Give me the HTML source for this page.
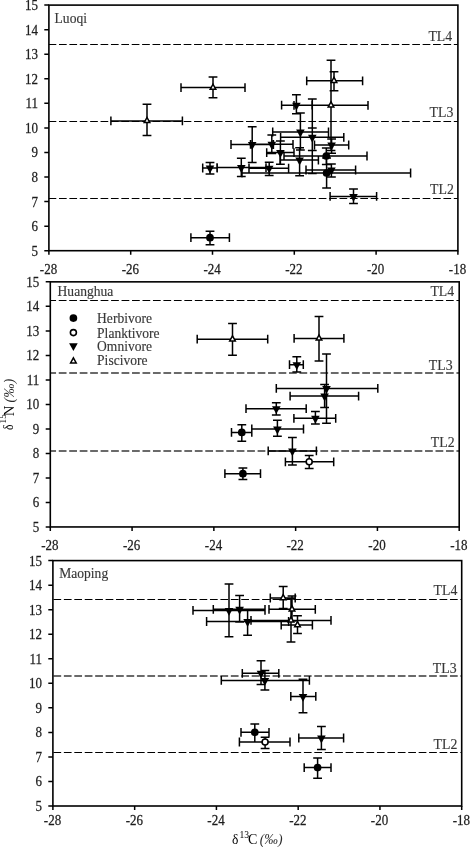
<!DOCTYPE html>
<html><head><meta charset="utf-8"><title>Stable isotope biplots</title>
<style>
html,body{margin:0;padding:0;background:#fff;}
svg{display:block;filter:grayscale(1);font-family:'Liberation Serif', serif;}
</style></head>
<body>
<svg width="470" height="847" viewBox="0 0 470 847">
<rect width="470" height="847" fill="#fff"/>
<g>
<line x1="48.9" y1="44.5" x2="457.9" y2="44.5" stroke="#000" stroke-width="1.15" stroke-dasharray="7.69 2.70" stroke-dashoffset="0.3"/>
<text transform="translate(452.2 40.8) scale(0.92 1)" font-size="15.0" text-anchor="end" fill="#383838" stroke="#383838" stroke-width="0.15">TL4</text>
<line x1="48.9" y1="121.5" x2="457.9" y2="121.5" stroke="#000" stroke-width="1.15" stroke-dasharray="7.69 2.70" stroke-dashoffset="0.3"/>
<text transform="translate(453.3 116.8) scale(0.92 1)" font-size="15.0" text-anchor="end" fill="#383838" stroke="#383838" stroke-width="0.15">TL3</text>
<line x1="48.9" y1="198.5" x2="457.9" y2="198.5" stroke="#000" stroke-width="1.15" stroke-dasharray="7.69 2.70" stroke-dashoffset="0.3"/>
<text transform="translate(453.8 194.0) scale(0.92 1)" font-size="15.0" text-anchor="end" fill="#383838" stroke="#383838" stroke-width="0.15">TL2</text>
<path d="M190.9 237.7H229.4M190.9 233.3V242.1M229.4 233.3V242.1M210.0 231.3V244.7M205.6 231.3H214.4M205.6 244.7H214.4M202.7 168.0H217.2M202.7 163.6V172.4M217.2 163.6V172.4M210.0 162.5V174.0M205.6 162.5H214.4M205.6 174.0H214.4M217.0 167.6H266.0M217.0 163.2V172.0M266.0 163.2V172.0M241.3 158.3V176.4M236.9 158.3H245.7M236.9 176.4H245.7M231.0 144.5H273.4M231.0 140.1V148.9M273.4 140.1V148.9M252.2 126.8V162.4M247.8 126.8H256.6M247.8 162.4H256.6M249.0 168.2H288.6M249.0 163.8V172.6M288.6 163.8V172.6M269.2 162.3V175.5M264.8 162.3H273.6M264.8 175.5H273.6M250.5 144.3H293.0M250.5 139.9V148.7M293.0 139.9V148.7M271.8 135.0V153.6M267.4 135.0H276.2M267.4 153.6H276.2M266.7 152.6H294.0M266.7 148.2V157.0M294.0 148.2V157.0M280.4 141.0V164.3M276.0 141.0H284.8M276.0 164.3H284.8M272.7 132.0H328.5M272.7 127.6V136.4M328.5 127.6V136.4M300.4 113.1V150.0M296.0 113.1H304.8M296.0 150.0H304.8M280.6 137.3H343.8M280.6 132.9V141.7M343.8 132.9V141.7M312.3 98.9V173.5M307.9 98.9H316.7M307.9 173.5H316.7M314.5 145.0H348.7M314.5 140.6V149.4M348.7 140.6V149.4M331.6 139.0V153.3M327.2 139.0H336.0M327.2 153.3H336.0M307.9 127.9H316.7M307.9 150.5H316.7M280.0 160.0H318.4M280.0 155.6V164.4M318.4 155.6V164.4M299.6 147.7V175.7M295.2 147.7H304.0M295.2 175.7H304.0M284.0 156.0H367.0M284.0 151.6V160.4M367.0 151.6V160.4M326.3 148.0V164.5M321.9 148.0H330.7M321.9 164.5H330.7M242.0 173.0H410.6M242.0 168.6V177.4M410.6 168.6V177.4M326.6 158.0V187.9M322.2 158.0H331.0M322.2 187.9H331.0M306.0 170.0H355.6M306.0 165.6V174.4M355.6 165.6V174.4M331.4 164.0V177.0M327.0 164.0H335.8M327.0 177.0H335.8M330.1 196.4H376.6M330.1 192.0V200.8M376.6 192.0V200.8M353.5 189.1V203.6M349.1 189.1H357.9M349.1 203.6H357.9M281.6 105.2H312.0M281.6 100.8V109.6M312.0 100.8V109.6M296.4 94.8V113.8M292.0 94.8H300.8M292.0 113.8H300.8M181.0 87.6H245.0M181.0 83.2V92.0M245.0 83.2V92.0M213.0 77.1V97.7M208.6 77.1H217.4M208.6 97.7H217.4M110.9 120.9H182.4M110.9 116.5V125.3M182.4 116.5V125.3M147.0 104.3V135.6M142.6 104.3H151.4M142.6 135.6H151.4M306.7 80.8H362.6M306.7 76.4V85.2M362.6 76.4V85.2M334.0 71.7V90.8M329.6 71.7H338.4M329.6 90.8H338.4M294.0 105.3H368.0M294.0 100.9V109.7M368.0 100.9V109.7M331.0 60.2V150.6M326.6 60.2H335.4M326.6 150.6H335.4" stroke="#000" stroke-width="1.5" fill="none"/>
<circle cx="210.0" cy="237.7" r="3.85" fill="#000"/>
<path d="M205.7 165.5H214.3L210.0 173.4Z" fill="#000"/>
<path d="M237.0 165.1H245.6L241.3 173.0Z" fill="#000"/>
<path d="M247.9 142.0H256.5L252.2 149.9Z" fill="#000"/>
<path d="M264.9 165.7H273.5L269.2 173.6Z" fill="#000"/>
<path d="M267.5 141.8H276.1L271.8 149.7Z" fill="#000"/>
<path d="M276.1 150.1H284.7L280.4 158.0Z" fill="#000"/>
<path d="M296.1 129.5H304.7L300.4 137.4Z" fill="#000"/>
<path d="M308.0 134.8H316.6L312.3 142.7Z" fill="#000"/>
<path d="M327.3 142.5H335.9L331.6 150.4Z" fill="#000"/>
<path d="M295.3 157.5H303.9L299.6 165.4Z" fill="#000"/>
<circle cx="326.3" cy="156.0" r="3.85" fill="#000"/>
<circle cx="326.6" cy="173.0" r="3.85" fill="#000"/>
<path d="M327.1 167.5H335.7L331.4 175.4Z" fill="#000"/>
<path d="M349.2 193.9H357.8L353.5 201.8Z" fill="#000"/>
<path d="M292.1 102.7H300.7L296.4 110.6Z" fill="#000"/>
<path d="M210.2 89.3H215.8L213.0 84.2Z" fill="#fff" stroke="#000" stroke-width="1.5" stroke-linejoin="miter"/>
<path d="M144.2 122.6H149.8L147.0 117.5Z" fill="#fff" stroke="#000" stroke-width="1.5" stroke-linejoin="miter"/>
<path d="M331.2 82.5H336.8L334.0 77.4Z" fill="#fff" stroke="#000" stroke-width="1.5" stroke-linejoin="miter"/>
<path d="M328.2 107.0H333.8L331.0 101.9Z" fill="#fff" stroke="#000" stroke-width="1.5" stroke-linejoin="miter"/>
<rect x="48.9" y="5.1" width="409.0" height="245.6" fill="none" stroke="#000" stroke-width="1.6"/>
<text transform="translate(37.9 10.0) scale(0.89 1)" font-size="14.6" text-anchor="end" fill="#1c1c1c" stroke="#1c1c1c" stroke-width="0.25">15</text>
<text transform="translate(37.9 34.6) scale(0.89 1)" font-size="14.6" text-anchor="end" fill="#1c1c1c" stroke="#1c1c1c" stroke-width="0.25">14</text>
<text transform="translate(37.9 59.1) scale(0.89 1)" font-size="14.6" text-anchor="end" fill="#1c1c1c" stroke="#1c1c1c" stroke-width="0.25">13</text>
<text transform="translate(37.9 83.7) scale(0.89 1)" font-size="14.6" text-anchor="end" fill="#1c1c1c" stroke="#1c1c1c" stroke-width="0.25">12</text>
<text transform="translate(37.9 108.2) scale(0.89 1)" font-size="14.6" text-anchor="end" fill="#1c1c1c" stroke="#1c1c1c" stroke-width="0.25">11</text>
<text transform="translate(37.9 132.8) scale(0.89 1)" font-size="14.6" text-anchor="end" fill="#1c1c1c" stroke="#1c1c1c" stroke-width="0.25">10</text>
<text transform="translate(37.9 157.4) scale(0.89 1)" font-size="14.6" text-anchor="end" fill="#1c1c1c" stroke="#1c1c1c" stroke-width="0.25">9</text>
<text transform="translate(37.9 181.9) scale(0.89 1)" font-size="14.6" text-anchor="end" fill="#1c1c1c" stroke="#1c1c1c" stroke-width="0.25">8</text>
<text transform="translate(37.9 206.5) scale(0.89 1)" font-size="14.6" text-anchor="end" fill="#1c1c1c" stroke="#1c1c1c" stroke-width="0.25">7</text>
<text transform="translate(37.9 231.0) scale(0.89 1)" font-size="14.6" text-anchor="end" fill="#1c1c1c" stroke="#1c1c1c" stroke-width="0.25">6</text>
<text transform="translate(37.9 255.6) scale(0.89 1)" font-size="14.6" text-anchor="end" fill="#1c1c1c" stroke="#1c1c1c" stroke-width="0.25">5</text>
<text transform="translate(48.5 273.5) scale(0.89 1)" font-size="14.6" text-anchor="middle" fill="#1c1c1c" stroke="#1c1c1c" stroke-width="0.25">-28</text>
<text transform="translate(130.3 273.5) scale(0.89 1)" font-size="14.6" text-anchor="middle" fill="#1c1c1c" stroke="#1c1c1c" stroke-width="0.25">-26</text>
<text transform="translate(212.1 273.5) scale(0.89 1)" font-size="14.6" text-anchor="middle" fill="#1c1c1c" stroke="#1c1c1c" stroke-width="0.25">-24</text>
<text transform="translate(293.9 273.5) scale(0.89 1)" font-size="14.6" text-anchor="middle" fill="#1c1c1c" stroke="#1c1c1c" stroke-width="0.25">-22</text>
<text transform="translate(375.7 273.5) scale(0.89 1)" font-size="14.6" text-anchor="middle" fill="#1c1c1c" stroke="#1c1c1c" stroke-width="0.25">-20</text>
<text transform="translate(457.5 273.5) scale(0.89 1)" font-size="14.6" text-anchor="middle" fill="#1c1c1c" stroke="#1c1c1c" stroke-width="0.25">-18</text>
<path d="M44.3 5.10H48.9M44.3 29.66H48.9M44.3 54.22H48.9M44.3 78.78H48.9M44.3 103.34H48.9M44.3 127.90H48.9M44.3 152.46H48.9M44.3 177.02H48.9M44.3 201.58H48.9M44.3 226.14H48.9M44.3 250.70H48.9M48.90 250.7V254.7M130.70 250.7V254.7M212.50 250.7V254.7M294.30 250.7V254.7M376.10 250.7V254.7M457.90 250.7V254.7" stroke="#000" stroke-width="1.5" fill="none"/>
<text transform="translate(54.6 22.5) scale(0.915 1)" font-size="14.8" text-anchor="start" fill="#383838" stroke="#383838" stroke-width="0.15">Luoqi</text>
</g>
<g>
<line x1="50.3" y1="300.5" x2="459.2" y2="300.5" stroke="#000" stroke-width="1.15" stroke-dasharray="7.75 2.715" stroke-dashoffset="2.0"/>
<text transform="translate(454.2 296.3) scale(0.92 1)" font-size="15.0" text-anchor="end" fill="#383838" stroke="#383838" stroke-width="0.15">TL4</text>
<line x1="50.3" y1="373.0" x2="459.2" y2="373.0" stroke="#6a6a6a" stroke-width="2.0" stroke-dasharray="7.75 2.715" stroke-dashoffset="2.0"/>
<text transform="translate(452.6 369.7) scale(0.92 1)" font-size="15.0" text-anchor="end" fill="#383838" stroke="#383838" stroke-width="0.15">TL3</text>
<line x1="50.3" y1="451.0" x2="459.2" y2="451.0" stroke="#6a6a6a" stroke-width="2.0" stroke-dasharray="7.75 2.715" stroke-dashoffset="2.0"/>
<text transform="translate(454.6 447.4) scale(0.92 1)" font-size="15.0" text-anchor="end" fill="#383838" stroke="#383838" stroke-width="0.15">TL2</text>
<path d="M197.2 339.2H267.7M197.2 334.8V343.6M267.7 334.8V343.6M232.5 323.4V355.2M228.1 323.4H236.9M228.1 355.2H236.9M294.1 338.4H343.9M294.1 334.0V342.8M343.9 334.0V342.8M319.0 316.5V360.9M314.6 316.5H323.4M314.6 360.9H323.4M289.5 364.7H303.3M289.5 360.3V369.1M303.3 360.3V369.1M296.8 356.7V372.0M292.4 356.7H301.2M292.4 372.0H301.2M276.3 388.4H377.8M276.3 384.0V392.8M377.8 384.0V392.8M326.5 354.0V423.2M322.1 354.0H330.9M322.1 423.2H330.9M290.1 396.1H358.6M290.1 391.7V400.5M358.6 391.7V400.5M324.6 384.4V407.4M320.2 384.4H329.0M320.2 407.4H329.0M246.0 408.7H306.2M246.0 404.3V413.1M306.2 404.3V413.1M276.3 402.7V415.1M271.9 402.7H280.7M271.9 415.1H280.7M293.9 418.3H335.7M293.9 413.9V422.7M335.7 413.9V422.7M315.4 411.4V424.0M311.0 411.4H319.8M311.0 424.0H319.8M251.8 429.0H303.5M251.8 424.6V433.4M303.5 424.6V433.4M277.4 420.2V436.3M273.0 420.2H281.8M273.0 436.3H281.8M231.5 432.4H251.8M231.5 428.0V436.8M251.8 428.0V436.8M241.8 424.8V441.3M237.4 424.8H246.2M237.4 441.3H246.2M268.2 450.9H316.4M268.2 446.5V455.3M316.4 446.5V455.3M292.4 437.4V464.9M288.0 437.4H296.8M288.0 464.9H296.8M285.4 461.8H333.7M285.4 457.4V466.2M333.7 457.4V466.2M309.2 455.4V468.4M304.8 455.4H313.6M304.8 468.4H313.6M224.9 473.7H260.5M224.9 469.3V478.1M260.5 469.3V478.1M242.9 467.9V479.4M238.5 467.9H247.3M238.5 479.4H247.3" stroke="#000" stroke-width="1.5" fill="none"/>
<path d="M229.7 340.9H235.3L232.5 335.8Z" fill="#fff" stroke="#000" stroke-width="1.5" stroke-linejoin="miter"/>
<path d="M316.2 340.1H321.8L319.0 335.0Z" fill="#fff" stroke="#000" stroke-width="1.5" stroke-linejoin="miter"/>
<path d="M292.5 362.2H301.1L296.8 370.1Z" fill="#000"/>
<path d="M322.2 385.9H330.8L326.5 393.8Z" fill="#000"/>
<path d="M320.3 393.6H328.9L324.6 401.5Z" fill="#000"/>
<path d="M272.0 406.2H280.6L276.3 414.1Z" fill="#000"/>
<path d="M311.1 415.8H319.7L315.4 423.7Z" fill="#000"/>
<path d="M273.1 426.5H281.7L277.4 434.4Z" fill="#000"/>
<circle cx="241.8" cy="432.4" r="3.85" fill="#000"/>
<path d="M288.1 448.4H296.7L292.4 456.3Z" fill="#000"/>
<circle cx="309.2" cy="461.8" r="3.0" fill="#fff" stroke="#000" stroke-width="1.6"/>
<circle cx="242.9" cy="473.7" r="3.85" fill="#000"/>
<rect x="50.3" y="281.85" width="408.9" height="245.1" fill="none" stroke="#000" stroke-width="1.6"/>
<text transform="translate(39.3 286.8) scale(0.89 1)" font-size="14.6" text-anchor="end" fill="#1c1c1c" stroke="#1c1c1c" stroke-width="0.25">15</text>
<text transform="translate(39.3 311.3) scale(0.89 1)" font-size="14.6" text-anchor="end" fill="#1c1c1c" stroke="#1c1c1c" stroke-width="0.25">14</text>
<text transform="translate(39.3 335.8) scale(0.89 1)" font-size="14.6" text-anchor="end" fill="#1c1c1c" stroke="#1c1c1c" stroke-width="0.25">13</text>
<text transform="translate(39.3 360.3) scale(0.89 1)" font-size="14.6" text-anchor="end" fill="#1c1c1c" stroke="#1c1c1c" stroke-width="0.25">12</text>
<text transform="translate(39.3 384.8) scale(0.89 1)" font-size="14.6" text-anchor="end" fill="#1c1c1c" stroke="#1c1c1c" stroke-width="0.25">11</text>
<text transform="translate(39.3 409.3) scale(0.89 1)" font-size="14.6" text-anchor="end" fill="#1c1c1c" stroke="#1c1c1c" stroke-width="0.25">10</text>
<text transform="translate(39.3 433.8) scale(0.89 1)" font-size="14.6" text-anchor="end" fill="#1c1c1c" stroke="#1c1c1c" stroke-width="0.25">9</text>
<text transform="translate(39.3 458.4) scale(0.89 1)" font-size="14.6" text-anchor="end" fill="#1c1c1c" stroke="#1c1c1c" stroke-width="0.25">8</text>
<text transform="translate(39.3 482.9) scale(0.89 1)" font-size="14.6" text-anchor="end" fill="#1c1c1c" stroke="#1c1c1c" stroke-width="0.25">7</text>
<text transform="translate(39.3 507.4) scale(0.89 1)" font-size="14.6" text-anchor="end" fill="#1c1c1c" stroke="#1c1c1c" stroke-width="0.25">6</text>
<text transform="translate(39.3 531.9) scale(0.89 1)" font-size="14.6" text-anchor="end" fill="#1c1c1c" stroke="#1c1c1c" stroke-width="0.25">5</text>
<text transform="translate(49.9 549.8) scale(0.89 1)" font-size="14.6" text-anchor="middle" fill="#1c1c1c" stroke="#1c1c1c" stroke-width="0.25">-28</text>
<text transform="translate(131.7 549.8) scale(0.89 1)" font-size="14.6" text-anchor="middle" fill="#1c1c1c" stroke="#1c1c1c" stroke-width="0.25">-26</text>
<text transform="translate(213.5 549.8) scale(0.89 1)" font-size="14.6" text-anchor="middle" fill="#1c1c1c" stroke="#1c1c1c" stroke-width="0.25">-24</text>
<text transform="translate(295.2 549.8) scale(0.89 1)" font-size="14.6" text-anchor="middle" fill="#1c1c1c" stroke="#1c1c1c" stroke-width="0.25">-22</text>
<text transform="translate(377.0 549.8) scale(0.89 1)" font-size="14.6" text-anchor="middle" fill="#1c1c1c" stroke="#1c1c1c" stroke-width="0.25">-20</text>
<text transform="translate(458.8 549.8) scale(0.89 1)" font-size="14.6" text-anchor="middle" fill="#1c1c1c" stroke="#1c1c1c" stroke-width="0.25">-18</text>
<path d="M45.7 281.85H50.3M45.7 306.37H50.3M45.7 330.88H50.3M45.7 355.39H50.3M45.7 379.91H50.3M45.7 404.43H50.3M45.7 428.94H50.3M45.7 453.45H50.3M45.7 477.97H50.3M45.7 502.49H50.3M45.7 527.00H50.3M50.30 527.0V531.0M132.08 527.0V531.0M213.86 527.0V531.0M295.64 527.0V531.0M377.42 527.0V531.0M459.20 527.0V531.0" stroke="#000" stroke-width="1.5" fill="none"/>
<text transform="translate(57.6 295.6) scale(0.915 1)" font-size="14.8" text-anchor="start" fill="#383838" stroke="#383838" stroke-width="0.15">Huanghua</text>
</g>
<g>
<line x1="52.9" y1="599.5" x2="461.7" y2="599.5" stroke="#000" stroke-width="1.15" stroke-dasharray="7.73 2.705" stroke-dashoffset="9.9"/>
<text transform="translate(457.3 594.6) scale(0.92 1)" font-size="15.0" text-anchor="end" fill="#383838" stroke="#383838" stroke-width="0.15">TL4</text>
<line x1="52.9" y1="676.0" x2="461.7" y2="676.0" stroke="#6a6a6a" stroke-width="2.0" stroke-dasharray="7.73 2.705" stroke-dashoffset="9.9"/>
<text transform="translate(456.6 672.7) scale(0.92 1)" font-size="15.0" text-anchor="end" fill="#383838" stroke="#383838" stroke-width="0.15">TL3</text>
<line x1="52.9" y1="752.5" x2="461.7" y2="752.5" stroke="#000" stroke-width="1.15" stroke-dasharray="7.73 2.705" stroke-dashoffset="9.9"/>
<text transform="translate(457.3 749.0) scale(0.92 1)" font-size="15.0" text-anchor="end" fill="#383838" stroke="#383838" stroke-width="0.15">TL2</text>
<path d="M193.0 610.4H265.0M193.0 606.0V614.8M265.0 606.0V614.8M229.0 584.0V636.7M224.6 584.0H233.4M224.6 636.7H233.4M213.3 609.3H265.0M213.3 604.9V613.7M265.0 604.9V613.7M239.6 595.5V622.0M235.2 595.5H244.0M235.2 622.0H244.0M206.6 621.5H288.6M206.6 617.1V625.9M288.6 617.1V625.9M247.6 610.4V635.3M243.2 610.4H252.0M243.2 635.3H252.0M270.3 598.0H295.2M270.3 593.6V602.4M295.2 593.6V602.4M283.2 586.5V608.5M278.8 586.5H287.6M278.8 608.5H287.6M269.0 609.3H315.3M269.0 604.9V613.7M315.3 604.9V613.7M292.0 596.0V621.0M287.6 596.0H296.4M287.6 621.0H296.4M251.0 620.4H331.0M251.0 616.0V624.8M331.0 616.0V624.8M291.0 598.8V642.0M286.6 598.8H295.4M286.6 642.0H295.4M281.2 625.0H312.4M281.2 620.6V629.4M312.4 620.6V629.4M297.5 615.8V633.4M293.1 615.8H301.9M293.1 633.4H301.9M242.3 673.3H278.8M242.3 668.9V677.7M278.8 668.9V677.7M261.0 660.7V684.5M256.6 660.7H265.4M256.6 684.5H265.4M221.3 680.4H309.4M221.3 676.0V684.8M309.4 676.0V684.8M264.9 670.6V690.0M260.5 670.6H269.3M260.5 690.0H269.3M290.8 696.4H315.8M290.8 692.0V700.8M315.8 692.0V700.8M303.0 679.2V712.7M298.6 679.2H307.4M298.6 712.7H307.4M241.0 732.3H269.0M241.0 727.9V736.7M269.0 727.9V736.7M254.8 724.0V742.0M250.4 724.0H259.2M250.4 742.0H259.2M239.4 742.0H290.0M239.4 737.6V746.4M290.0 737.6V746.4M265.1 737.3V748.4M260.7 737.3H269.5M260.7 748.4H269.5M298.8 738.0H343.6M298.8 733.6V742.4M343.6 733.6V742.4M321.4 726.6V749.6M317.0 726.6H325.8M317.0 749.6H325.8M304.2 767.6H331.0M304.2 763.2V772.0M331.0 763.2V772.0M317.6 758.0V778.3M313.2 758.0H322.0M313.2 778.3H322.0" stroke="#000" stroke-width="1.5" fill="none"/>
<path d="M224.7 607.9H233.3L229.0 615.8Z" fill="#000"/>
<path d="M235.3 606.8H243.9L239.6 614.7Z" fill="#000"/>
<path d="M243.3 619.0H251.9L247.6 626.9Z" fill="#000"/>
<path d="M280.4 599.7H286.0L283.2 594.6Z" fill="#fff" stroke="#000" stroke-width="1.5" stroke-linejoin="miter"/>
<path d="M289.2 611.0H294.8L292.0 605.9Z" fill="#fff" stroke="#000" stroke-width="1.5" stroke-linejoin="miter"/>
<path d="M288.2 622.1H293.8L291.0 617.0Z" fill="#fff" stroke="#000" stroke-width="1.5" stroke-linejoin="miter"/>
<path d="M294.7 626.7H300.3L297.5 621.6Z" fill="#fff" stroke="#000" stroke-width="1.5" stroke-linejoin="miter"/>
<path d="M256.7 670.8H265.3L261.0 678.7Z" fill="#000"/>
<path d="M260.6 677.9H269.2L264.9 685.8Z" fill="#000"/>
<path d="M298.7 693.9H307.3L303.0 701.8Z" fill="#000"/>
<circle cx="254.8" cy="732.3" r="3.85" fill="#000"/>
<circle cx="265.1" cy="742.0" r="3.0" fill="#fff" stroke="#000" stroke-width="1.6"/>
<path d="M317.1 735.5H325.7L321.4 743.4Z" fill="#000"/>
<circle cx="317.6" cy="767.6" r="3.85" fill="#000"/>
<rect x="52.9" y="560.6" width="408.8" height="245.4" fill="none" stroke="#000" stroke-width="1.6"/>
<text transform="translate(41.9 565.5) scale(0.89 1)" font-size="14.6" text-anchor="end" fill="#1c1c1c" stroke="#1c1c1c" stroke-width="0.25">15</text>
<text transform="translate(41.9 590.0) scale(0.89 1)" font-size="14.6" text-anchor="end" fill="#1c1c1c" stroke="#1c1c1c" stroke-width="0.25">14</text>
<text transform="translate(41.9 614.6) scale(0.89 1)" font-size="14.6" text-anchor="end" fill="#1c1c1c" stroke="#1c1c1c" stroke-width="0.25">13</text>
<text transform="translate(41.9 639.1) scale(0.89 1)" font-size="14.6" text-anchor="end" fill="#1c1c1c" stroke="#1c1c1c" stroke-width="0.25">12</text>
<text transform="translate(41.9 663.7) scale(0.89 1)" font-size="14.6" text-anchor="end" fill="#1c1c1c" stroke="#1c1c1c" stroke-width="0.25">11</text>
<text transform="translate(41.9 688.2) scale(0.89 1)" font-size="14.6" text-anchor="end" fill="#1c1c1c" stroke="#1c1c1c" stroke-width="0.25">10</text>
<text transform="translate(41.9 712.7) scale(0.89 1)" font-size="14.6" text-anchor="end" fill="#1c1c1c" stroke="#1c1c1c" stroke-width="0.25">9</text>
<text transform="translate(41.9 737.3) scale(0.89 1)" font-size="14.6" text-anchor="end" fill="#1c1c1c" stroke="#1c1c1c" stroke-width="0.25">8</text>
<text transform="translate(41.9 761.8) scale(0.89 1)" font-size="14.6" text-anchor="end" fill="#1c1c1c" stroke="#1c1c1c" stroke-width="0.25">7</text>
<text transform="translate(41.9 786.4) scale(0.89 1)" font-size="14.6" text-anchor="end" fill="#1c1c1c" stroke="#1c1c1c" stroke-width="0.25">6</text>
<text transform="translate(41.9 810.9) scale(0.89 1)" font-size="14.6" text-anchor="end" fill="#1c1c1c" stroke="#1c1c1c" stroke-width="0.25">5</text>
<text transform="translate(52.5 824.8) scale(0.89 1)" font-size="14.6" text-anchor="middle" fill="#1c1c1c" stroke="#1c1c1c" stroke-width="0.25">-28</text>
<text transform="translate(134.3 824.8) scale(0.89 1)" font-size="14.6" text-anchor="middle" fill="#1c1c1c" stroke="#1c1c1c" stroke-width="0.25">-26</text>
<text transform="translate(216.0 824.8) scale(0.89 1)" font-size="14.6" text-anchor="middle" fill="#1c1c1c" stroke="#1c1c1c" stroke-width="0.25">-24</text>
<text transform="translate(297.8 824.8) scale(0.89 1)" font-size="14.6" text-anchor="middle" fill="#1c1c1c" stroke="#1c1c1c" stroke-width="0.25">-22</text>
<text transform="translate(379.5 824.8) scale(0.89 1)" font-size="14.6" text-anchor="middle" fill="#1c1c1c" stroke="#1c1c1c" stroke-width="0.25">-20</text>
<text transform="translate(461.3 824.8) scale(0.89 1)" font-size="14.6" text-anchor="middle" fill="#1c1c1c" stroke="#1c1c1c" stroke-width="0.25">-18</text>
<path d="M48.3 560.60H52.9M48.3 585.14H52.9M48.3 609.68H52.9M48.3 634.22H52.9M48.3 658.76H52.9M48.3 683.30H52.9M48.3 707.84H52.9M48.3 732.38H52.9M48.3 756.92H52.9M48.3 781.46H52.9M48.3 806.00H52.9M52.90 806.0V810.0M134.66 806.0V810.0M216.42 806.0V810.0M298.18 806.0V810.0M379.94 806.0V810.0M461.70 806.0V810.0" stroke="#000" stroke-width="1.5" fill="none"/>
<text transform="translate(59.3 577.6) scale(0.915 1)" font-size="14.8" text-anchor="start" fill="#383838" stroke="#383838" stroke-width="0.15">Maoping</text>
</g>
<circle cx="73.4" cy="318.1" r="3.85" fill="#000"/>
<text transform="translate(97.1 323.0) scale(0.915 1)" font-size="14.8" text-anchor="start" fill="#383838" stroke="#383838" stroke-width="0.15">Herbivore</text>
<circle cx="73.4" cy="332.6" r="3.0" fill="#fff" stroke="#000" stroke-width="1.6"/>
<text transform="translate(97.1 337.6) scale(0.915 1)" font-size="14.8" text-anchor="start" fill="#383838" stroke="#383838" stroke-width="0.15">Planktivore</text>
<path d="M69.1 343.2H77.7L73.4 351.1Z" fill="#000"/>
<text transform="translate(97.1 351.3) scale(0.915 1)" font-size="14.8" text-anchor="start" fill="#383838" stroke="#383838" stroke-width="0.15">Omnivore</text>
<path d="M70.6 362.9H76.2L73.4 357.8Z" fill="#fff" stroke="#000" stroke-width="1.5" stroke-linejoin="miter"/>
<text transform="translate(97.1 365.0) scale(0.915 1)" font-size="14.8" text-anchor="start" fill="#383838" stroke="#383838" stroke-width="0.15">Piscivore</text>
<g transform="translate(13.5 430.0) rotate(-90)"><text x="0" y="-0.9" font-size="14.4" transform="scale(0.82 1)">δ</text><text x="6.6" y="-7.4" font-size="9.4">15</text><text x="13.8" y="0" font-size="14.8">N</text><text x="27.6" y="0" font-size="14.2" font-style="italic" fill="#2a2a2a">(‰)</text></g>
<g><text x="231.9" y="843.6" font-size="13.6">δ</text><text x="239.4" y="838.0" font-size="9.6">13</text><text x="248.0" y="843.6" font-size="14">C</text><text x="259.8" y="843.6" font-size="13.7" font-style="italic" fill="#2a2a2a">(‰)</text></g>
</svg>
</body></html>
